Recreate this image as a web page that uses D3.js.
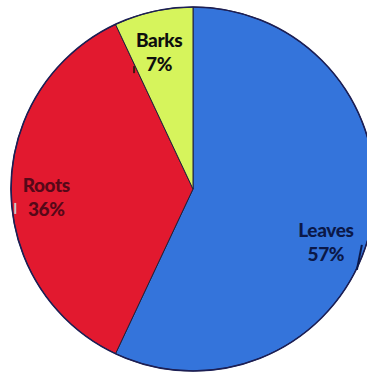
<!DOCTYPE html>
<html>
<head>
<meta charset="utf-8">
<script src="https://cdn.jsdelivr.net/npm/d3@7"></script>
<style>
  html, body { margin: 0; padding: 0; background: #fff; }
  svg { display: block; }
</style>
</head>
<body>
<svg id="chart" width="367" height="374"></svg>
<script>
// Share of biomass by plant part
const parts = ["Leaves", "Roots", "Barks"];
const shares = [57, 36, 7];
const fills = ["#3474db", "#e2192f", "#d6f45c"];
const inks = ["#0b1848", "#560818", "#0e0e0e"];

const width = 367, height = 374;
const cx = 193, cy = 189, radius = 182;

const svg = d3.select("#chart");
const g = svg.append("g").attr("transform", `translate(${cx},${cy})`);

const rows = parts.map((p, i) => ({ part: p, share: shares[i], fill: fills[i], ink: inks[i] }));

const pie = d3.pie().sort(null).value(d => d.share);
const arc = d3.arc().innerRadius(0).outerRadius(radius);
const arcs = pie(rows);

g.selectAll("path.slice")
  .data(arcs)
  .join("path")
  .attr("class", "slice")
  .attr("d", arc)
  .attr("fill", d => d.data.fill)
  .attr("stroke", "#23203a")
  .attr("stroke-width", 1);

// outer rim
g.append("circle")
  .attr("r", radius)
  .attr("fill", "none")
  .attr("stroke", "#1c1f55")
  .attr("stroke-width", 1.6);

// label placement: distance from centre and angular nudge per slice
const labelRadius = { Leaves: 143, Roots: 147, Barks: 141 };
const labelTurn = { Leaves: 0.159, Roots: -0.054, Barks: -0.023 };

const labelPos = d => {
  const a = (d.startAngle + d.endAngle) / 2 + labelTurn[d.data.part];
  const r = labelRadius[d.data.part];
  return [Math.sin(a) * r, -Math.cos(a) * r];
};

const labels = g.selectAll("g.label")
  .data(arcs)
  .join("g")
  .attr("class", "label")
  .attr("transform", d => `translate(${labelPos(d)})`);

const styleText = sel => sel
  .attr("text-anchor", "middle")
  .attr("font-family", "Lato, sans-serif")
  .attr("font-weight", 900)
  .attr("font-size", 19)
  .attr("letter-spacing", -0.4)
  .attr("fill", d => d.data.ink);

labels.append("text").call(styleText)
  .attr("y", -5)
  .text(d => d.data.part);

labels.append("text").call(styleText)
  .attr("y", 19)
  .text(d => d.data.share + "%");

// short leader strokes left beside the labels
const leaderOf = {
  Leaves: { x1: 31, y1: 28, x2: 36, y2: 3, color: "#0b1848", w: 2 },
  Roots: { x1: -31, y1: 6, x2: -31, y2: 17, color: "#c9c9c9", w: 2 },
  Barks: { x1: -25, y1: 14, x2: -25, y2: 21, color: "#3a1a10", w: 2 }
};
arcs.forEach(d => {
  const [px, py] = labelPos(d);
  const s = leaderOf[d.data.part];
  g.append("line")
    .attr("x1", px + s.x1).attr("y1", py + s.y1)
    .attr("x2", px + s.x2).attr("y2", py + s.y2)
    .attr("stroke", s.color)
    .attr("stroke-width", s.w);
});
</script>
</body>
</html>
